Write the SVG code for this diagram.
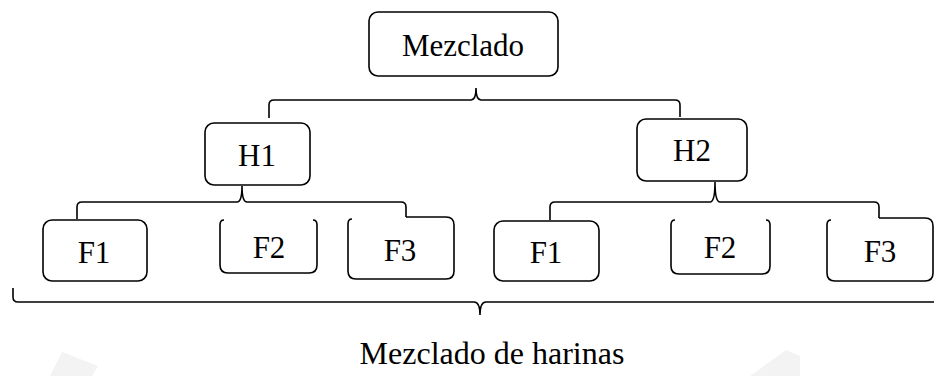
<svg xmlns="http://www.w3.org/2000/svg" width="934" height="376" viewBox="0 0 934 376">
<style>
.b{fill:#fff;stroke:#000;stroke-width:1.6}
.o{fill:none;stroke:#000;stroke-width:1.6}
.t{font-family:'Liberation Serif','DejaVu Serif',serif;font-size:31px;fill:#000;text-anchor:middle}
.w{fill:#f3f3f3}
</style>
<rect width="934" height="376" fill="#fff"/>
<g id="watermark">
<polygon class="w" points="50,376 62,352 98,366 92,376"/>
<polygon class="w" points="750,376 786,350 800,356 800,376"/>
</g>
<g id="connectors">
<path class="o" d="M269,118 V105 Q269,100 274,100 H471 Q476,100 476,88 Q476,100 481,100 H675 Q680,100 680,105 V117"/>
<path class="o" d="M77,219 V207 Q77,202 82,202 H237 Q242,202 242,186 Q242,202 247,202 H401 Q406,202 406,207 V217"/>
<path class="o" d="M550,220 V207 Q550,202 555,202 H710 Q715,202 715,182 Q715,202 720,202 H874 Q879,202 879,207 V218"/>
<path class="o" d="M13,288 V297 Q13,302 18,302 H474 Q480,302 480,315 Q480,302 486,302 H934"/>
</g>
<g id="n-mezclado"><rect class="b" x="369" y="12" width="189" height="64" rx="9"/><text class="t" font-family="Liberation Serif, DejaVu Serif, serif" x="463" y="56">Mezclado</text></g>
<g id="n-h1"><rect class="b" x="205" y="123" width="105" height="62" rx="9"/><text class="t" font-family="Liberation Serif, DejaVu Serif, serif" x="257" y="166">H1</text></g>
<g id="n-h2"><rect class="b" x="637" y="119" width="110" height="62" rx="9"/><text class="t" font-family="Liberation Serif, DejaVu Serif, serif" x="692" y="161">H2</text></g>
<g id="n-f1a"><rect class="b" x="43" y="220" width="104" height="61" rx="9"/><text class="t" font-family="Liberation Serif, DejaVu Serif, serif" x="94" y="263">F1</text></g>
<g id="n-f2a"><path class="o" d="M224,220 Q220,220 220,225 V265 Q220,273 228,273 H309 Q317,273 317,265 V225 Q317,220 313,220"/><text class="t" font-family="Liberation Serif, DejaVu Serif, serif" x="269" y="258">F2</text></g>
<g id="n-f3a"><path class="o" d="M352,219 Q348,219 348,224 V271 Q348,279 356,279 H446 Q454,279 454,271 V225 Q454,217 446,217 H406"/><text class="t" font-family="Liberation Serif, DejaVu Serif, serif" x="400" y="261">F3</text></g>
<g id="n-f1b"><rect class="b" x="494" y="221" width="105" height="60" rx="9"/><text class="t" font-family="Liberation Serif, DejaVu Serif, serif" x="546" y="263">F1</text></g>
<g id="n-f2b"><path class="o" d="M675,220 Q671,220 671,225 V266 Q671,274 679,274 H762 Q770,274 770,266 V225 Q770,220 766,220"/><text class="t" font-family="Liberation Serif, DejaVu Serif, serif" x="720" y="258">F2</text></g>
<g id="n-f3b"><path class="o" d="M831,220 Q827,220 827,225 V273 Q827,281 835,281 H925 Q933,281 933,273 V226 Q933,218 925,218 H879"/><text class="t" font-family="Liberation Serif, DejaVu Serif, serif" x="880" y="262">F3</text></g>
<g id="caption"><text class="t" font-family="Liberation Serif, DejaVu Serif, serif" x="492" y="364" style="font-size:32px">Mezclado de harinas</text></g>
</svg>
